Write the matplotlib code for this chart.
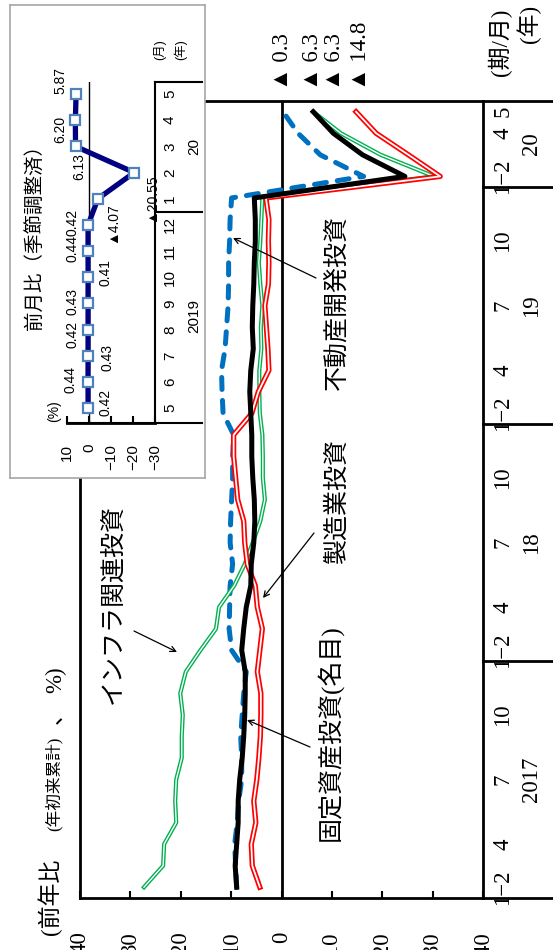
import matplotlib
matplotlib.use("agg")
from matplotlib import pyplot as plt

plt.rcParams["font.family"] = ["Liberation Serif", "Noto Sans CJK JP"]
SANS = ["Liberation Sans", "Noto Sans CJK JP"]

W, H = 553, 950  # output size in pixels (dpi 100)

# year-to-date growth, % (2017 Jan-Feb .. 2020 Jan-May)
months = ["1-2", "3", "4", "5", "6", "7", "8", "9", "10", "11", "12"] * 3 + ["1-2", "3", "4", "5"]
years = ["2017", "18", "19", "20"]
fixed_asset = [8.9, 9.2, 8.9, 8.6, 8.6, 8.3, 7.8, 7.5, 7.3, 7.2, 7.2,
               7.9, 7.5, 7.0, 6.1, 6.0, 5.5, 5.3, 5.4, 5.7, 5.9, 5.9,
               6.1, 6.3, 6.1, 5.6, 5.8, 5.7, 5.5, 5.4, 5.2, 5.2, 5.4,
               -24.5, -16.1, -10.3, -6.3]
manufacturing = [4.3, 5.8, 6.0, 5.1, 5.5, 4.9, 4.5, 4.2, 4.1, 4.1, 4.8,
                 4.3, 3.8, 4.8, 5.2, 6.8, 7.3, 7.5, 8.7, 9.1, 9.5, 9.5,
                 5.9, 4.6, 2.5, 2.7, 3.0, 3.3, 2.6, 2.5, 2.6, 2.5, 3.1,
                 -31.5, -25.2, -18.8, -14.8]
infrastructure = [27.3, 23.5, 23.3, 20.9, 21.1, 20.9, 19.8, 19.8, 19.6, 20.1, 19.0,
                  16.1, 13.0, 12.4, 9.4, 7.3, 5.7, 4.2, 3.3, 3.7, 3.7, 3.8,
                  4.3, 4.4, 4.4, 4.0, 4.1, 3.8, 4.2, 4.5, 4.2, 4.0, 3.8,
                  -30.3, -19.7, -11.8, -6.3]
real_estate = [8.9, 9.1, 9.3, 8.8, 8.5, 7.9, 7.9, 8.1, 7.8, 7.5, 7.0,
               9.9, 10.4, 10.3, 10.2, 9.7, 10.2, 10.1, 9.9, 9.7, 9.7, 9.5,
               11.6, 11.8, 11.9, 11.2, 10.9, 10.6, 10.5, 10.5, 10.3, 10.2, 9.9,
               -16.3, -7.7, -3.3, -0.3]

# month-on-month, seasonally adjusted (2019/5 .. 2020/5)
mom_months = ["5", "6", "7", "8", "9", "10", "11", "12", "1", "2", "3", "4", "5"]
mom_years = ["2019", "20"]
mom_values = [0.42, 0.44, 0.43, 0.42, 0.43, 0.41, 0.44, 0.42, -4.07, -20.55, 6.13, 6.20, 5.87]


def fxy(x, y):
    # image pixel -> figure fraction
    return x / W, 1 - y / H


def neg(v, fmt):
    s = fmt.format(abs(v))
    return "▲" + s if v < 0 else s


fig = plt.figure(figsize=(W / 100, H / 100), dpi=100)

# ---------------- main chart (drawn rotated: time runs upward) ----------------
ax = fig.add_axes([80 / W, 1 - 898 / H, 403 / W, 797 / H])
t = list(range(len(months)))
ax.set_xlim(40, -40)
ax.set_ylim(-0.5, len(months) - 0.5)

ax.axvline(0, color="black", lw=2, zorder=1)
ax.plot(real_estate, t, color="#0070C0", lw=3.6, dashes=(2.4, 2.2),
        dash_capstyle="round", zorder=2)
for vals, col, w_out, w_in, z in [(infrastructure, "#00B050", 3.0, 1.0, 3),
                                  (manufacturing, "#FF0000", 3.8, 1.3, 4)]:
    ax.plot(vals, t, color=col, lw=w_out, zorder=z)
    ax.plot(vals, t, color="white", lw=w_in, zorder=z + 0.1)
ax.plot(fixed_asset, t, color="black", lw=3.6, zorder=5)

ticks = list(range(-40, 41, 10))
ax.set_xticks(ticks)
ax.set_xticklabels([str(v).replace("-", "−") for v in ticks], rotation=90)
ax.tick_params(axis="x", direction="in", length=5, width=1.5, pad=24, labelsize=16.5)
ax.set_yticks([])
for s in ax.spines.values():
    s.set_linewidth(2)

tr = ax.get_yaxis_transform()
starts = [i for i, m in enumerate(months) if m == "1-2"]
for i, m in enumerate(months):
    if m in ("1-2", "4", "7", "10") or i == len(months) - 1:
        ax.text((503 - 80) / 403, i, m.replace("-", "−"), transform=tr, rotation=90,
                ha="center", va="center", fontsize=16.5, clip_on=False)
bounds = starts + [len(months)]
for k, y in enumerate(years):
    mid = (bounds[k] + bounds[k + 1] - 1) / 2
    ax.text((532 - 80) / 403, mid, y, transform=tr, rotation=90,
            ha="center", va="center", fontsize=16.5, clip_on=False)
for b in bounds:
    ax.plot([1, (553 - 80) / 403], [b - 0.5] * 2, transform=tr, color="black",
            lw=2, clip_on=False)


def ftext(x, y, s, size, **kw):
    ax.text(*fxy(x, y), s, transform=fig.transFigure, rotation=90, fontsize=size,
            clip_on=False, **{"ha": "center", "va": "center", **kw})


def farrow(x0, y0, x1, y1):
    ax.annotate("", xy=fxy(x1, y1), xycoords="figure fraction",
                xytext=fxy(x0, y0), textcoords="figure fraction",
                arrowprops=dict(arrowstyle="->", lw=0.9, color="black",
                                shrinkA=0, shrinkB=0), zorder=10)


ftext(337, 302, "不動産開発投資", 18)
ftext(337, 502, "製造業投資", 18)
ftext(329, 733, "固定資産投資(名目)", 18)
ftext(113, 604, "インフラ関連投資", 18)
farrow(316, 278, 233, 238)
farrow(314, 533, 263, 598)
farrow(310, 747, 247, 720)
farrow(134, 631, 177, 652)

# axis title
ftext(50, 935, "(前年比", 16.5, va="bottom")
ftext(54, 784, "(年初来累計)", 12)
ftext(55, 713, "、", 16.5)
ftext(56, 680, "%)", 16.5)
ftext(500, 42, "(期/月)", 16.5)
ftext(529, 24, "(年)", 16.5)

# end values
for x, v in zip([283, 312, 334, 360],
                [real_estate[-1], fixed_asset[-1], infrastructure[-1], manufacturing[-1]]):
    ftext(x, 90, neg(v, "{:.1f}").replace("▲", "▲ "), 16.5, va="bottom")

# ---------------- inset: month-on-month ----------------
box = fig.add_axes([10 / W, 1 - 478 / H, 195 / W, 473 / H], zorder=5)
box.set_xticks([])
box.set_yticks([])
for s in box.spines.values():
    s.set_color("#A6A6A6")
    s.set_linewidth(1.2)

ins = fig.add_axes([67 / W, 1 - 423 / H, 88 / W, 341 / H], zorder=6)
ins.patch.set_alpha(0)
mt = list(range(len(mom_months)))
ins.set_xlim(10, -30)
ins.set_ylim(-0.573, 12.46)
for k in ("top", "left"):
    ins.spines[k].set_visible(False)
ins.spines["bottom"].set_linewidth(2)
ins.spines["right"].set_linewidth(1.5)
ins.axvline(0, color="black", lw=1, zorder=1)
ins.set_xticks([10, 0, -10, -20, -30])
ins.set_xticklabels([str(v).replace("-", "−") for v in [10, 0, -10, -20, -30]],
                    rotation=90, fontfamily=SANS)
ins.tick_params(axis="x", direction="in", length=5, width=1.5, pad=15, labelsize=11)
ins.set_yticks([])
ins.plot(mom_values, mt, color="#000080", lw=3.8, marker="s", ms=7.5,
         mfc="white", mec="#4F81BD", mew=1.6, zorder=3, clip_on=False)

offsets = [(17, 6), (-18, 2), (19, -2), (-16, -5), (-16, 2), (17, 5), (-16, 3),
           (-16, 2), (14, -24), (17, -25), (4, -20), (-15, -9), (-16, 14)]
for i, (v, off) in enumerate(zip(mom_values, offsets)):
    ins.annotate(neg(v, "{:.2f}"), xy=(v, i), xytext=off, textcoords="offset pixels",
                 rotation=90, ha="center", va="center", fontsize=10,
                 fontfamily=SANS, annotation_clip=False)

itr = ins.get_yaxis_transform()
for i, m in enumerate(mom_months):
    ins.text((170 - 67) / 88, i, m, transform=itr, rotation=90, ha="center",
             va="center", fontsize=11, fontfamily=SANS, clip_on=False)
mstart = [0, mom_months.index("1")]
mb = mstart + [len(mom_months)]
for k, y in enumerate(mom_years):
    mid = (mb[k] + mb[k + 1] - 1) / 2
    ins.text((194 - 67) / 88, mid, y, transform=itr, rotation=90, ha="center",
             va="center", fontsize=11, fontfamily=SANS, clip_on=False)
for b, y0 in [(-0.573, 0), (7.5, 1), (12.46, 1)]:
    ins.plot([y0, (202 - 67) / 88], [b, b], transform=itr, color="black",
             lw=1.5, clip_on=False)

box.text(*[(160 - 10) / 195, 1 - (50 - 5) / 473], "(月)", transform=box.transAxes,
         rotation=90, ha="center", va="center", fontsize=9, fontfamily=SANS)
box.text(*[(180 - 10) / 195, 1 - (50 - 5) / 473], "(年)", transform=box.transAxes,
         rotation=90, ha="center", va="center", fontsize=9, fontfamily=SANS)
box.text(*[(54 - 10) / 195, 1 - (411 - 5) / 473], "(%)", transform=box.transAxes,
         rotation=90, ha="center", va="center", fontsize=10, fontfamily=SANS)
box.text(*[(35 - 10) / 195, 1 - (232 - 5) / 473], "前月比（季節調整済）",
         transform=box.transAxes, rotation=90, ha="center", va="center",
         fontsize=14, fontfamily=SANS)

fig.savefig("out.png", dpi=100)
